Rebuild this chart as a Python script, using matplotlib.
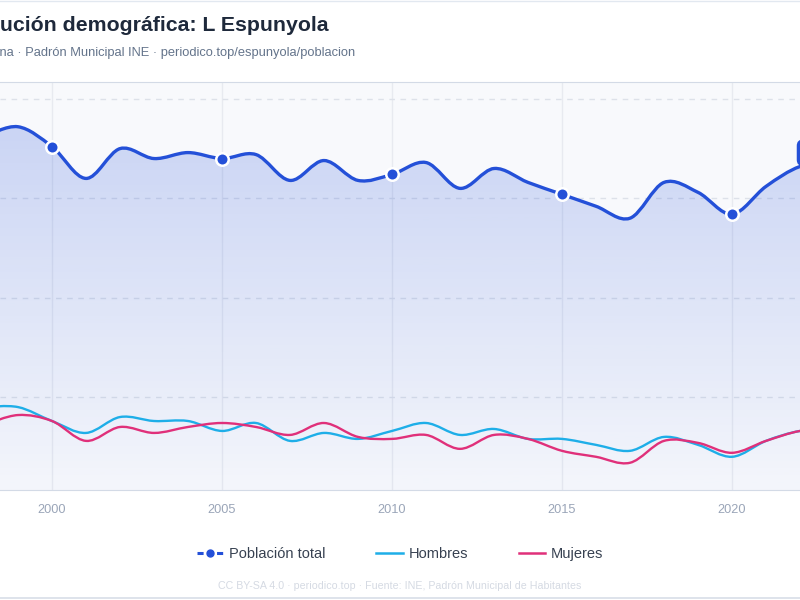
import numpy as np
import matplotlib
matplotlib.use("Agg")
import matplotlib.pyplot as plt
from matplotlib.path import Path
from matplotlib.patches import PathPatch
from matplotlib.lines import Line2D

plt.rcParams['font.family'] = ['Liberation Sans', 'DejaVu Sans']

# datos
years = [1998, 1999, 2000, 2001, 2002, 2003, 2004, 2005, 2006, 2007, 2008, 2009, 2010,
         2011, 2012, 2013, 2014, 2015, 2016, 2017, 2018, 2019, 2020, 2021, 2022, 2023]
hombres = [145, 145, 138, 132, 140, 138, 138, 133, 137, 128, 132, 129, 133,
           137, 131, 134, 129, 129, 126, 123, 130, 126, 120, 128, 133, 134]
mujeres = [136, 141, 138, 128, 135, 132, 135, 137, 135, 131, 137, 130, 129,
           131, 124, 131, 129, 123, 120, 117, 128, 127, 122, 128, 133, 134]
total = [h + m for h, m in zip(hombres, mujeres)]
marker_years = [2000, 2005, 2010, 2015, 2020]
xticks = [2000, 2005, 2010, 2015, 2020]
ygrid = [150, 200, 250, 300]
last_label = "268"

BLUE = '#2450d8'
SKY = '#1eaee8'
PINK = '#e0307a'


def smooth_path(xs, ys, close_to=None):
    # curva tipo catmull-rom con beziers cubicos
    xs = np.asarray(xs, float)
    ys = np.asarray(ys, float)
    n = len(xs)
    verts = [(xs[0], ys[0])]
    codes = [Path.MOVETO]
    for i in range(n - 1):
        i0 = max(i - 1, 0)
        i3 = min(i + 2, n - 1)
        c1 = (xs[i] + (xs[i + 1] - xs[i0]) / 6, ys[i] + (ys[i + 1] - ys[i0]) / 6)
        c2 = (xs[i + 1] - (xs[i3] - xs[i]) / 6, ys[i + 1] - (ys[i3] - ys[i]) / 6)
        verts += [c1, c2, (xs[i + 1], ys[i + 1])]
        codes += [Path.CURVE4] * 3
    if close_to is not None:
        verts += [(xs[-1], close_to), (xs[0], close_to), (xs[0], ys[0])]
        codes += [Path.LINETO, Path.LINETO, Path.CLOSEPOLY]
    return Path(verts, codes)


fig = plt.figure(figsize=(8, 6), dpi=100)
ax = fig.add_axes([0, 1 - 490 / 600, 1, 408 / 600])
ax.set_facecolor('#f8f9fc')
ax.set_xlim(2000 - 52 / 34, 2000 + 748 / 34)
ax.set_ylim(103.3, 308.5)

for x in xticks:
    ax.axvline(x, color='#e8eaf0', lw=1, zorder=1)
for y in ygrid:
    ax.axhline(y, color='#dde1e9', lw=1, dashes=(4, 4), zorder=1)

# relleno degradado bajo la poblacion total
fill = PathPatch(smooth_path(years, total, close_to=0), facecolor='none', edgecolor='none')
ax.add_patch(fill)
grad = np.zeros((256, 1, 4))
rgb = matplotlib.colors.to_rgb(BLUE)
grad[:, 0, :3] = rgb
grad[:, 0, 3] = np.linspace(0.22, 0.02, 256)
im = ax.imshow(grad, aspect='auto', extent=[1990, 2030, 103.3, 290], origin='upper', zorder=2)
im.set_clip_path(fill)

ax.add_patch(PathPatch(smooth_path(years, hombres), facecolor='none', edgecolor=SKY, lw=1.7, zorder=3))
ax.add_patch(PathPatch(smooth_path(years, mujeres), facecolor='none', edgecolor=PINK, lw=1.7, zorder=3))
ax.add_patch(PathPatch(smooth_path(years, total), facecolor='none', edgecolor=BLUE, lw=2.4, zorder=4,
                       capstyle='round', joinstyle='round'))
ax.plot(marker_years, [total[years.index(y)] for y in marker_years], 'o', color=BLUE,
        markersize=9, markeredgecolor='white', markeredgewidth=1.8, zorder=5, clip_on=False)

ax.text(2000 + (803 - 52) / 34, 272.9, last_label, ha='left', va='center', color='white',
        fontsize=10, fontweight='bold', zorder=6,
        bbox=dict(boxstyle='round,pad=0.45', fc=BLUE, ec='none'))

ax.set_xticks(xticks)
ax.set_xticklabels([str(x) for x in xticks])
ax.set_yticks(ygrid)
ax.set_yticklabels([])
ax.tick_params(axis='x', length=0, pad=10, labelsize=9.2, labelcolor='#9aa5b8')
ax.tick_params(axis='y', length=0)
for s in ['left', 'right']:
    ax.spines[s].set_visible(False)
ax.spines['top'].set_color('#d3dae6')
ax.spines['bottom'].set_color('#d3dae6')

# titulo y subtitulo, cortados a la izquierda como en la captura
renderer = fig.canvas.get_renderer()
t_full = "Evolución demográfica: L Espunyola"
t_pre = fig.text(0, 0, "Evol", fontsize=15.3, fontweight='bold')
w = t_pre.get_window_extent(renderer).width
t_pre.remove()
fig.text(-w / 800, 1 - 31 / 600, t_full, fontsize=15.3, fontweight='bold', color='#1e293b', va='baseline')

s_full = "Barcelona · Padrón Municipal INE · periodico.top/espunyola/poblacion"
s_pre = fig.text(0, 0, "Barcelo", fontsize=9.25)
w = s_pre.get_window_extent(renderer).width
s_pre.remove()
fig.text(-w / 800, 1 - 56 / 600, s_full, fontsize=9.25, color='#64748b', va='baseline')

handles = [
    Line2D([], [], color=BLUE, lw=2.2, ls=(0, (2, 1.2)), marker='o', markersize=5),
    Line2D([], [], color=SKY, lw=1.8),
    Line2D([], [], color=PINK, lw=1.8),
]
fig.legend(handles, ['Población total', 'Hombres', 'Mujeres'], loc='center',
           bbox_to_anchor=(0.5, 1 - 554 / 600), ncol=3, frameon=False, fontsize=10.5,
           handlelength=1.8, handletextpad=0.4, columnspacing=3.5, labelcolor='#374151',
           numpoints=1)

fig.text(0.5, 1 - 586 / 600, "CC BY-SA 4.0 · periodico.top · Fuente: INE, Padrón Municipal de Habitantes",
         ha='center', va='center', fontsize=7.7, color='#d5dae3')

fig.add_artist(Line2D([0, 1], [1 - 1 / 600, 1 - 1 / 600], color='#e2e8f0', lw=1, transform=fig.transFigure))
fig.add_artist(Line2D([0, 1], [1 - 598 / 600, 1 - 598 / 600], color='#d8dee8', lw=1.2, transform=fig.transFigure))

fig.savefig('out.png', dpi=100, facecolor='white')
